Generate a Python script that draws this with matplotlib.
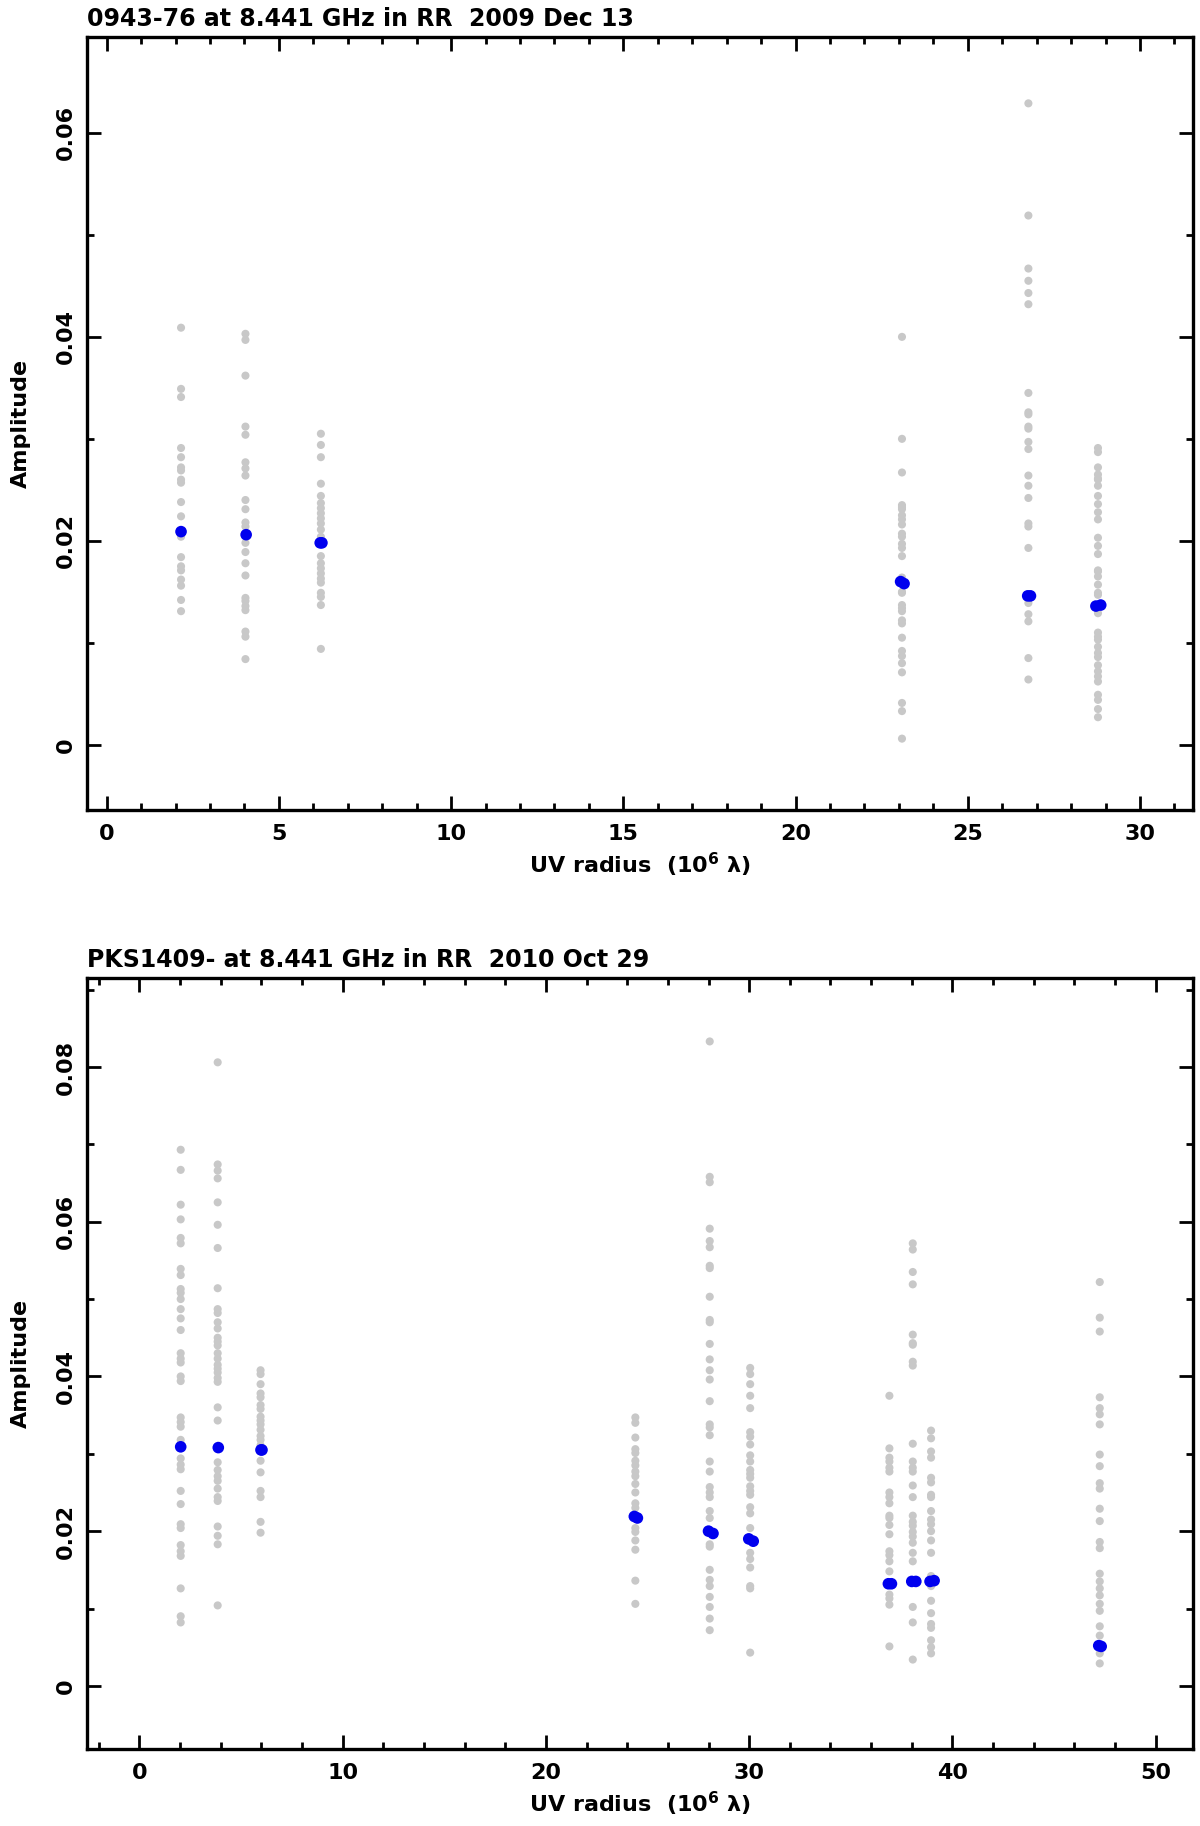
# Amplitude vs UV radius, two sources (grey = visibilities, blue = averages)
import matplotlib
matplotlib.use("Agg")
import matplotlib.pyplot as plt
from matplotlib.ticker import MultipleLocator, FuncFormatter

plt.rcParams['font.family'] = ['DejaVu Sans']
plt.rcParams['font.weight'] = 'bold'
plt.rcParams['axes.labelweight'] = 'bold'
plt.rcParams['mathtext.default'] = 'bf'

# ---- panel 1: 0943-76 ----
titulo1 = "0943-76 at 8.441 GHz in RR  2009 Dec 13"
uv1 = [2.16, 4.03, 6.22, 23.09, 26.76, 28.78]
amp1 = [
    [0.0409, 0.0349, 0.0341, 0.0291, 0.0282, 0.0272, 0.0269, 0.0260, 0.0257, 0.0238,
     0.0224, 0.0204, 0.0184, 0.0175, 0.0171, 0.0162, 0.0156, 0.0142, 0.0131],
    [0.0403, 0.0397, 0.0362, 0.0312, 0.0304, 0.0277, 0.0271, 0.0264, 0.0240, 0.0231,
     0.0218, 0.0214, 0.0198, 0.0189, 0.0178, 0.0166, 0.0144, 0.0141, 0.0136, 0.0132,
     0.0111, 0.0106, 0.0084],
    [0.0305, 0.0294, 0.0282, 0.0256, 0.0244, 0.0237, 0.0232, 0.0227, 0.0222, 0.0217,
     0.0211, 0.0204, 0.0185, 0.0178, 0.0173, 0.0168, 0.0163, 0.0159, 0.0149, 0.0145,
     0.0137, 0.0094],
    [0.0400, 0.0300, 0.0267, 0.0235, 0.0233, 0.0231, 0.0225, 0.0221, 0.0216, 0.0207,
     0.0204, 0.0197, 0.0193, 0.0185, 0.0164, 0.0150, 0.0149, 0.0137, 0.0134, 0.0131,
     0.0122, 0.0119, 0.0105, 0.0092, 0.0087, 0.0080, 0.0071, 0.0041, 0.0033, 0.0006],
    [0.0629, 0.0519, 0.0467, 0.0455, 0.0443, 0.0432, 0.0345, 0.0326, 0.0324, 0.0312,
     0.0310, 0.0297, 0.0290, 0.0264, 0.0254, 0.0242, 0.0217, 0.0214, 0.0193, 0.0139,
     0.0128, 0.0121, 0.0085, 0.0064],
    [0.0291, 0.0287, 0.0272, 0.0265, 0.0261, 0.0260, 0.0254, 0.0244, 0.0236, 0.0228,
     0.0221, 0.0203, 0.0195, 0.0187, 0.0171, 0.0170, 0.0165, 0.0157, 0.0149, 0.0147,
     0.0129, 0.0110, 0.0106, 0.0103, 0.0096, 0.0090, 0.0086, 0.0078, 0.0072, 0.0067,
     0.0062, 0.0049, 0.0044, 0.0035, 0.0027],
]
media_x1 = [2.16, 4.05, 6.2, 6.25, 23.05, 23.15, 26.74, 26.82, 28.72, 28.86]
media_y1 = [0.0209, 0.0206, 0.0198, 0.0198, 0.0160, 0.0158, 0.0146, 0.0146, 0.0136, 0.0137]

# ---- panel 2: PKS1409- ----
titulo2 = "PKS1409- at 8.441 GHz in RR  2010 Oct 29"
uv2 = [2.03, 3.85, 5.96, 24.4, 28.06, 30.05, 36.9, 38.05, 38.95, 47.25]
amp2 = [
    [0.0693, 0.0667, 0.0622, 0.0603, 0.0579, 0.0572, 0.0539, 0.0531, 0.0513, 0.0508,
     0.0500, 0.0487, 0.0475, 0.0460, 0.0430, 0.0423, 0.0418, 0.0400, 0.0394, 0.0347,
     0.0341, 0.0335, 0.0318, 0.0294, 0.0286, 0.0280, 0.0252, 0.0235, 0.0209, 0.0204,
     0.0182, 0.0174, 0.0168, 0.0126, 0.0090, 0.0082],
    [0.0806, 0.0674, 0.0666, 0.0656, 0.0625, 0.0596, 0.0566, 0.0514, 0.0487, 0.0482,
     0.0470, 0.0462, 0.0450, 0.0445, 0.0440, 0.0430, 0.0423, 0.0415, 0.0410, 0.0405,
     0.0398, 0.0393, 0.0360, 0.0343, 0.0289, 0.0279, 0.0271, 0.0265, 0.0255, 0.0244,
     0.0239, 0.0206, 0.0194, 0.0183, 0.0104],
    [0.0408, 0.0403, 0.0390, 0.0378, 0.0373, 0.0363, 0.0358, 0.0348, 0.0343, 0.0338,
     0.0331, 0.0323, 0.0318, 0.0311, 0.0291, 0.0276, 0.0252, 0.0244, 0.0212, 0.0198],
    [0.0347, 0.0340, 0.0321, 0.0306, 0.0301, 0.0291, 0.0285, 0.0277, 0.0271, 0.0261,
     0.0250, 0.0236, 0.0230, 0.0204, 0.0199, 0.0188, 0.0176, 0.0136, 0.0106],
    [0.0833, 0.0658, 0.0651, 0.0591, 0.0575, 0.0567, 0.0543, 0.0540, 0.0503, 0.0473,
     0.0470, 0.0442, 0.0422, 0.0408, 0.0396, 0.0368, 0.0338, 0.0334, 0.0324, 0.0290,
     0.0277, 0.0257, 0.0250, 0.0244, 0.0226, 0.0217, 0.0183, 0.0180, 0.0150, 0.0137,
     0.0129, 0.0115, 0.0102, 0.0087, 0.0072],
    [0.0411, 0.0403, 0.0390, 0.0375, 0.0359, 0.0328, 0.0322, 0.0312, 0.0298, 0.0290,
     0.0279, 0.0274, 0.0269, 0.0258, 0.0252, 0.0247, 0.0231, 0.0223, 0.0204, 0.0172,
     0.0164, 0.0153, 0.0129, 0.0126, 0.0043],
    [0.0375, 0.0307, 0.0295, 0.0290, 0.0282, 0.0277, 0.0250, 0.0244, 0.0236, 0.0220,
     0.0217, 0.0208, 0.0196, 0.0174, 0.0169, 0.0161, 0.0148, 0.0118, 0.0113, 0.0105,
     0.0051],
    [0.0572, 0.0564, 0.0535, 0.0519, 0.0454, 0.0443, 0.0441, 0.0419, 0.0414, 0.0313,
     0.0290, 0.0282, 0.0277, 0.0259, 0.0244, 0.0220, 0.0212, 0.0207, 0.0199, 0.0193,
     0.0185, 0.0172, 0.0161, 0.0102, 0.0082, 0.0034],
    [0.0330, 0.0320, 0.0303, 0.0295, 0.0269, 0.0263, 0.0247, 0.0244, 0.0226, 0.0215,
     0.0209, 0.0200, 0.0188, 0.0172, 0.0142, 0.0129, 0.0110, 0.0094, 0.0080, 0.0075,
     0.0059, 0.0050, 0.0042],
    [0.0522, 0.0476, 0.0458, 0.0373, 0.0359, 0.0351, 0.0338, 0.0299, 0.0284, 0.0262,
     0.0255, 0.0229, 0.0213, 0.0186, 0.0178, 0.0145, 0.0135, 0.0126, 0.0117, 0.0106,
     0.0097, 0.0077, 0.0065, 0.0042, 0.0029],
]
media_x2 = [2.03, 3.88, 5.98, 6.03, 24.35, 24.5, 28.0, 28.22, 29.98, 30.2,
            36.85, 37.0, 38.0, 38.2, 38.9, 39.1, 47.2, 47.32]
media_y2 = [0.0309, 0.0308, 0.0305, 0.0305, 0.0219, 0.0217, 0.0200, 0.0197, 0.0190, 0.0187,
            0.0132, 0.0132, 0.0135, 0.0135, 0.0135, 0.0136, 0.0052, 0.0051]

cinza = "#c8c8c8"
azul = "#0000ee"


def desenha(ax, titulo, uv, amp, mx, my, xlim, ylim, xmaj, xmin):
    for x, ys in zip(uv, amp):
        ax.scatter([x] * len(ys), ys, s=34, color=cinza, edgecolors='none', zorder=2)
    ax.scatter(mx, my, s=70, color=azul, edgecolors='none', zorder=3)
    ax.set_xlim(*xlim)
    ax.set_ylim(*ylim)
    ax.xaxis.set_major_locator(MultipleLocator(xmaj))
    ax.xaxis.set_minor_locator(MultipleLocator(xmin))
    ax.yaxis.set_major_locator(MultipleLocator(0.02))
    ax.yaxis.set_minor_locator(MultipleLocator(0.01))
    ax.yaxis.set_major_formatter(FuncFormatter(lambda v, p: f"{v:g}" if abs(v) > 1e-9 else "0"))
    ax.tick_params(which='both', direction='in', top=True, right=True, width=2, labelsize=16)
    ax.tick_params(which='major', length=10)
    ax.tick_params(which='minor', length=5)
    ax.tick_params(axis='x', pad=10)
    ax.tick_params(axis='y', labelrotation=90, pad=8)
    for lb in ax.get_yticklabels():
        lb.set_verticalalignment('center')
    for sp in ax.spines.values():
        sp.set_linewidth(2.4)
    ax.set_xlabel("UV radius  (10$^{6}$ λ)", fontsize=16, labelpad=5)
    ax.set_ylabel("Amplitude", fontsize=16, labelpad=18)
    ax.text(0.0, 1.008, titulo, transform=ax.transAxes, fontsize=17,
            ha='left', va='bottom')


fig = plt.figure(figsize=(12, 18.26), dpi=100)
ax1 = fig.add_axes([0.0725, 0.5564, 0.9217, 0.4233])
ax2 = fig.add_axes([0.0725, 0.0420, 0.9217, 0.4224])

desenha(ax1, titulo1, uv1, amp1, media_x1, media_y1, (-0.57, 31.54), (-0.0064, 0.0694), 5, 1)
desenha(ax2, titulo2, uv2, amp2, media_x2, media_y2, (-2.58, 51.84), (-0.0082, 0.0915), 10, 2)

fig.savefig("out.png", dpi=100)
